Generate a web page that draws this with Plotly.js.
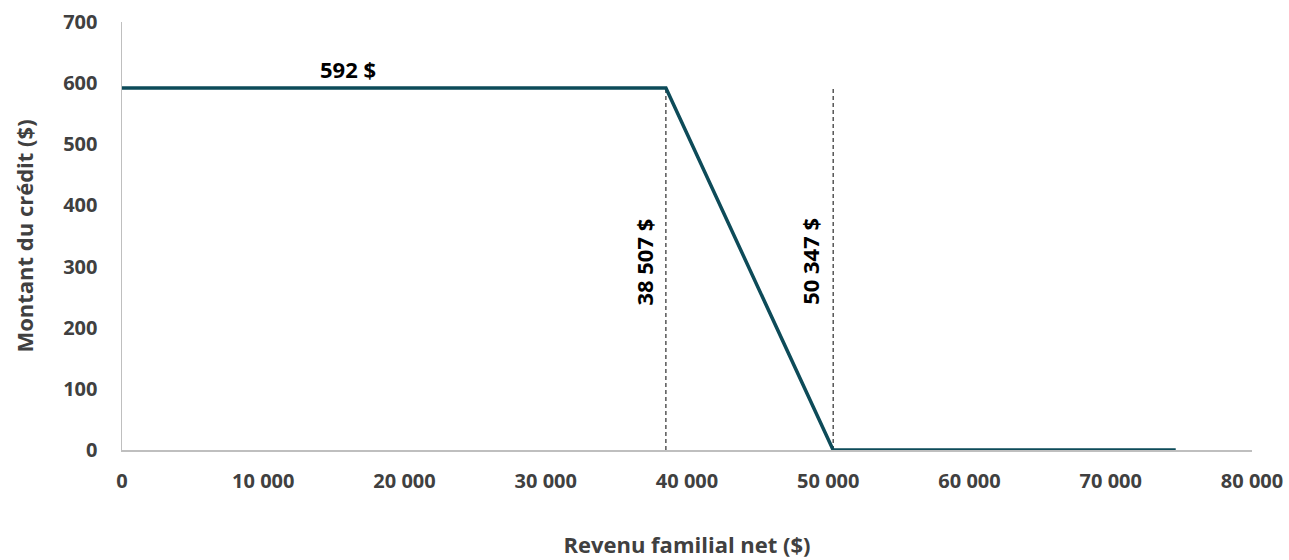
<!DOCTYPE html>
<html>
<head>
<meta charset="utf-8">
<script src="https://cdn.plot.ly/plotly-3.0.1.min.js"></script>
<style>html,body{margin:0;padding:0;background:#fff;}#chart{width:1289px;height:560px;}</style>
</head>
<body>
<div id="chart"></div>
<script>
// Data
const revenu = [0, 38507, 50347, 74600];
const credit = [592, 592, 0, 0];
const seuils = [38507, 50347];
const seuilLabels = ["38 507 $", "50 347 $"];
const creditMax = 592;
const creditLabel = "592 $";
const xTicks = [0, 10000, 20000, 30000, 40000, 50000, 60000, 70000, 80000];
const xTickText = ["0", "10 000", "20 000", "30 000", "40 000", "50 000", "60 000", "70 000", "80 000"];
const yTicks = [0, 100, 200, 300, 400, 500, 600, 700];

const FONT = "Open Sans, Liberation Sans, sans-serif";
const GREY = "#404040";

const traces = [];
seuils.forEach(s => {
  traces.push({
    x: [s, s], y: [0, creditMax], mode: "lines", type: "scatter",
    line: {color: "#000000", width: 1, dash: "4px,3px"},
    hoverinfo: "skip", showlegend: false
  });
});
traces.push({
  x: revenu, y: credit, mode: "lines", type: "scatter",
  line: {color: "#0d4b59", width: 3.5},
  hoverinfo: "skip", showlegend: false, cliponaxis: false
});

const annFont = {family: FONT, size: 22, color: "#000", weight: "bold"};
const annotations = [
  {x: 16000, y: 623, xref: "x", yref: "y", text: creditLabel, showarrow: false, font: annFont},
  {x: seuils[0], y: 308, xref: "x", yref: "y", text: seuilLabels[0], showarrow: false,
   textangle: -90, xshift: -22, font: annFont},
  {x: seuils[1], y: 308, xref: "x", yref: "y", text: seuilLabels[1], showarrow: false,
   textangle: -90, xshift: -23, font: annFont}
];

const tickFont = {family: FONT, size: 20, color: GREY, weight: "bold"};
const titleFont = {family: FONT, size: 22, color: GREY, weight: "bold"};

const layout = {
  width: 1289, height: 560,
  margin: {l: 122, r: 37, t: 22, b: 110},
  paper_bgcolor: "#fff", plot_bgcolor: "#fff",
  font: {family: FONT, color: GREY},
  xaxis: {
    range: [0, 80000], tickvals: xTicks, ticktext: xTickText,
    showgrid: false, zeroline: false, showline: true, linecolor: "#bfbfbf", linewidth: 1.5,
    ticks: "", ticklabelstandoff: 12,
    tickfont: tickFont,
    title: {text: "Revenu familial net ($)", standoff: 45, font: titleFont}
  },
  yaxis: {
    range: [0, 700], tickvals: yTicks,
    showgrid: false, zeroline: false, showline: true, linecolor: "#bfbfbf", linewidth: 1.5,
    ticks: "", ticklabelstandoff: 19,
    tickfont: tickFont,
    title: {text: "Montant du crédit ($)", standoff: 23, font: titleFont}
  },
  annotations: annotations
};

Plotly.newPlot("chart", traces, layout, {displayModeBar: false, staticPlot: true});
</script>
</body>
</html>
